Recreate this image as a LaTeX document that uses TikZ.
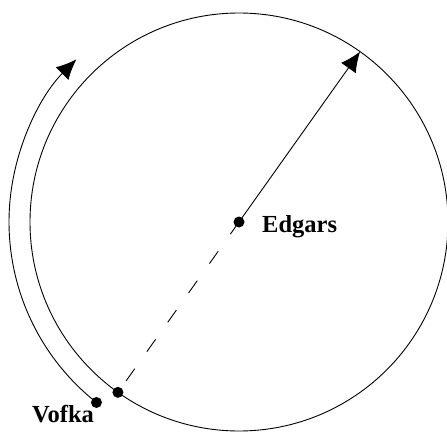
\documentclass[tikz,border=0pt]{standalone}
\usepackage{fontspec}
\setmainfont{Liberation Serif}
\usetikzlibrary{arrows.meta,calc}
\tikzset{
  x=1pt, y=1pt,
  orbit/.style={line width=0.9pt, black},
  arrowline/.style={line width=0.9pt, -{Latex[length=20pt,width=18pt]}},
  dashline/.style={line width=0.9pt, dash pattern=on 15pt off 21pt},
  dot/.style={circle, fill=black, inner sep=0pt, minimum size=11pt},
  lbl/.style={font=\fontsize{24.5}{28}\selectfont\bfseries, inner sep=0pt}
}
\begin{document}
\begin{tikzpicture}
\useasboundingbox (0,0) rectangle (447,432);
\coordinate (C) at (239,210);
% main circle
\draw[orbit] (C) circle[radius=209];
% points on the circle and outer arc
\coordinate (T) at ($(C)+(54.6:209)$);
\coordinate (P) at ($(C)+(234.6:209)$);
\coordinate (Vs) at ($(C)+(231.7:230)$);
% connectors
\draw[arrowline] (C) -- (T);
\draw[dashline] (C) -- (P);
\draw[arrowline] (Vs) arc[start angle=231.7, end angle=135, radius=230];
% dots
\node[dot] (E) at (C) {};
\node[dot] (Vp) at (P) {};
\node[dot] (V) at (Vs) {};
% labels
\node[lbl, anchor=base west] (EL) at (262,200) {Edgars};
\node[lbl, anchor=base west] (VL) at (32,10) {Vofka};
\end{tikzpicture}
\end{document}
